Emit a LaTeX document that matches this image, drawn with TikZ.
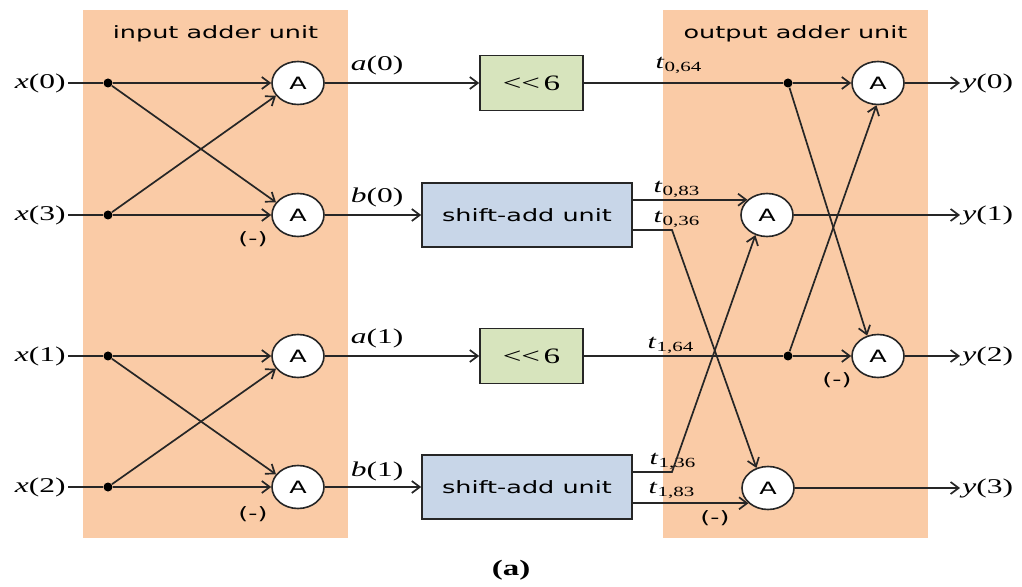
\documentclass[tikz,border=0pt]{standalone}
\usepackage{fontspec}
\setmainfont{Liberation Serif}[FakeStretch=1.5]
\setsansfont{DejaVu Sans}[FakeStretch=1.5]
\definecolor{unitOrange}{HTML}{FACBA6}
\definecolor{shiftGreen}{HTML}{D7E4BD}
\definecolor{addBlue}{HTML}{C8D6E8}
\definecolor{lineDark}{HTML}{262626}
\usepackage{tikz}
\usetikzlibrary{calc, positioning, shapes.geometric, arrows.meta}

\tikzset{
  panel/.style={fill=unitOrange, inner sep=0pt, minimum width=132.5pt, minimum height=264pt},
  unittitle/.style={font=\sffamily\fontsize{8.5}{10}\selectfont, inner sep=1pt},
  adder/.style={ellipse, draw=lineDark, fill=white, line width=0.8pt, inner sep=0pt,
                minimum width=26pt, minimum height=21.5pt, font=\sffamily\fontsize{8.5}{10}\selectfont},
  shiftbox/.style={draw=lineDark, fill=shiftGreen, line width=0.8pt,
                   minimum width=51.5pt, minimum height=27.5pt, font=\fontsize{11}{12}\selectfont},
  sabox/.style={draw=lineDark, fill=addBlue, line width=0.8pt,
                minimum width=105pt, minimum height=32pt, font=\sffamily\fontsize{8.5}{10}\selectfont},
  sig/.style={font=\fontsize{10.5}{12}\selectfont, inner sep=1pt},
  tlab/.style={font=\fontsize{10}{12}\selectfont, inner sep=0pt},
  minuslab/.style={font=\sffamily\fontsize{8.5}{10}\selectfont, inner sep=0pt},
  junction/.style={circle, fill=black, inner sep=0pt, minimum size=4.5pt},
  wire/.style={draw=lineDark, line width=0.85pt},
  arr/.style={wire, -{Straight Barb[length=4pt, width=6pt]}},
}

\begin{document}
\begin{tikzpicture}[x=0.5pt, y=-0.5pt]
  \useasboundingbox (0,0) rectangle (1022,587);

  % adder unit panels
  \node[panel] (inunit) at (215.5,274) {};
  \node[panel] (outunit) at (795.5,274) {};
  \node[unittitle, below=7pt of inunit.north] (intitle) {input adder unit};
  \node[unittitle, below=7pt of outunit.north] (outtitle) {output adder unit};

  % inputs
  \node[sig, anchor=east] (x0) at (68,83) {\textit{x}(0)};
  \node[sig, anchor=east] (x3) at (68,215) {\textit{x}(3)};
  \node[sig, anchor=east] (x1) at (68,356) {\textit{x}(1)};
  \node[sig, anchor=east] (x2) at (68,487) {\textit{x}(2)};
  \node[junction] (jx0) at (108,83) {};
  \node[junction] (jx3) at (108,215) {};
  \node[junction] (jx1) at (108,356) {};
  \node[junction] (jx2) at (108,487) {};

  \node[adder] (ia0) at (298,83) {A};
  \node[adder] (ib0) at (298,215) {A};
  \node[adder] (ia1) at (298,356) {A};
  \node[adder] (ib1) at (298,487) {A};
  \node[minuslab] (mb0) at (253,239) {(-)};
  \node[minuslab] (mb1) at (253,514) {(-)};

  \draw[wire] (x0) -- (jx0);
  \draw[wire] (x3) -- (jx3);
  \draw[wire] (x1) -- (jx1);
  \draw[wire] (x2) -- (jx2);
  \draw[arr] (jx0) -- (ia0);
  \draw[arr] (jx0) -- (ib0.150);
  \draw[arr] (jx3) -- (ib0);
  \draw[arr] (jx3) -- (ia0.210);
  \draw[arr] (jx1) -- (ia1);
  \draw[arr] (jx1) -- (ib1.150);
  \draw[arr] (jx2) -- (ib1);
  \draw[arr] (jx2) -- (ia1.210);

  % shift stages
  \node[shiftbox] (g0) at (531.5,83) {{<}{<}\,6};
  \node[sabox] (sa0) at (527,215) {shift-add unit};
  \node[shiftbox] (g1) at (531.5,356) {{<}{<}\,6};
  \node[sabox] (sa1) at (527,487) {shift-add unit};
  \node[sig] (la0) at (377,65) {\textit{a}(0)};
  \node[sig] (lb0) at (377,197) {\textit{b}(0)};
  \node[sig] (la1) at (377,338) {\textit{a}(1)};
  \node[sig] (lb1) at (377,471) {\textit{b}(1)};
  \draw[arr] (ia0) -- (g0);
  \draw[arr] (ib0) -- (sa0);
  \draw[arr] (ia1) -- (g1);
  \draw[arr] (ib1) -- (sa1);

  % output adders
  \node[adder] (o0) at (878,83) {A};
  \node[adder] (o1) at (767,215) {A};
  \node[adder] (o2) at (878,356) {A};
  \node[adder] (o3) at (768,488) {A};
  \node[minuslab] (mo2) at (837,380) {(-)};
  \node[minuslab] (mo3) at (715,518) {(-)};
  \node[junction] (jt0) at (788,83) {};
  \node[junction] (jt2) at (788,356) {};
  \coordinate (k0) at (672,230);
  \coordinate (k1) at (672,472);

  \node[tlab] (t064) at (679,65) {\textit{t}\textsubscript{0,64}};
  \node[tlab] (t083) at (677,189) {\textit{t}\textsubscript{0,83}};
  \node[tlab] (t036) at (677,219) {\textit{t}\textsubscript{0,36}};
  \node[tlab] (t164) at (671,345) {\textit{t}\textsubscript{1,64}};
  \node[tlab] (t136) at (673,461) {\textit{t}\textsubscript{1,36}};
  \node[tlab] (t183) at (672,490) {\textit{t}\textsubscript{1,83}};

  \draw[wire] (g0) -- (jt0);
  \draw[arr] (jt0) -- (o0);
  \draw[arr] (jt0) -- (o2.118);
  \draw[wire] (g1) -- (jt2);
  \draw[arr] (jt2) -- (o2);
  \draw[arr] (jt2) -- (o0.266);
  \draw[arr] (o1.142 -| sa0.east) -- (o1.142);
  \draw[arr] (sa0.east |- k0) -- (k0) -- (o3.120);
  \draw[arr] (sa1.east |- k1) -- (k1) -- (o1.240);
  \draw[arr] (o3.218 -| sa1.east) -- (o3.218);

  % outputs
  \node[sig, anchor=west] (y0) at (960,83) {\textit{y}(0)};
  \node[sig, anchor=west] (y1) at (960,215) {\textit{y}(1)};
  \node[sig, anchor=west] (y2) at (960,356) {\textit{y}(2)};
  \node[sig, anchor=west] (y3) at (960,488) {\textit{y}(3)};
  \draw[arr] (o0) -- (y0);
  \draw[arr] (o1) -- (y1);
  \draw[arr] (o2) -- (y2);
  \draw[arr] (o3) -- (y3);

  \node[font=\bfseries\fontsize{11}{12}\selectfont] (caption) at (511,570) {(a)};
\end{tikzpicture}
\end{document}
